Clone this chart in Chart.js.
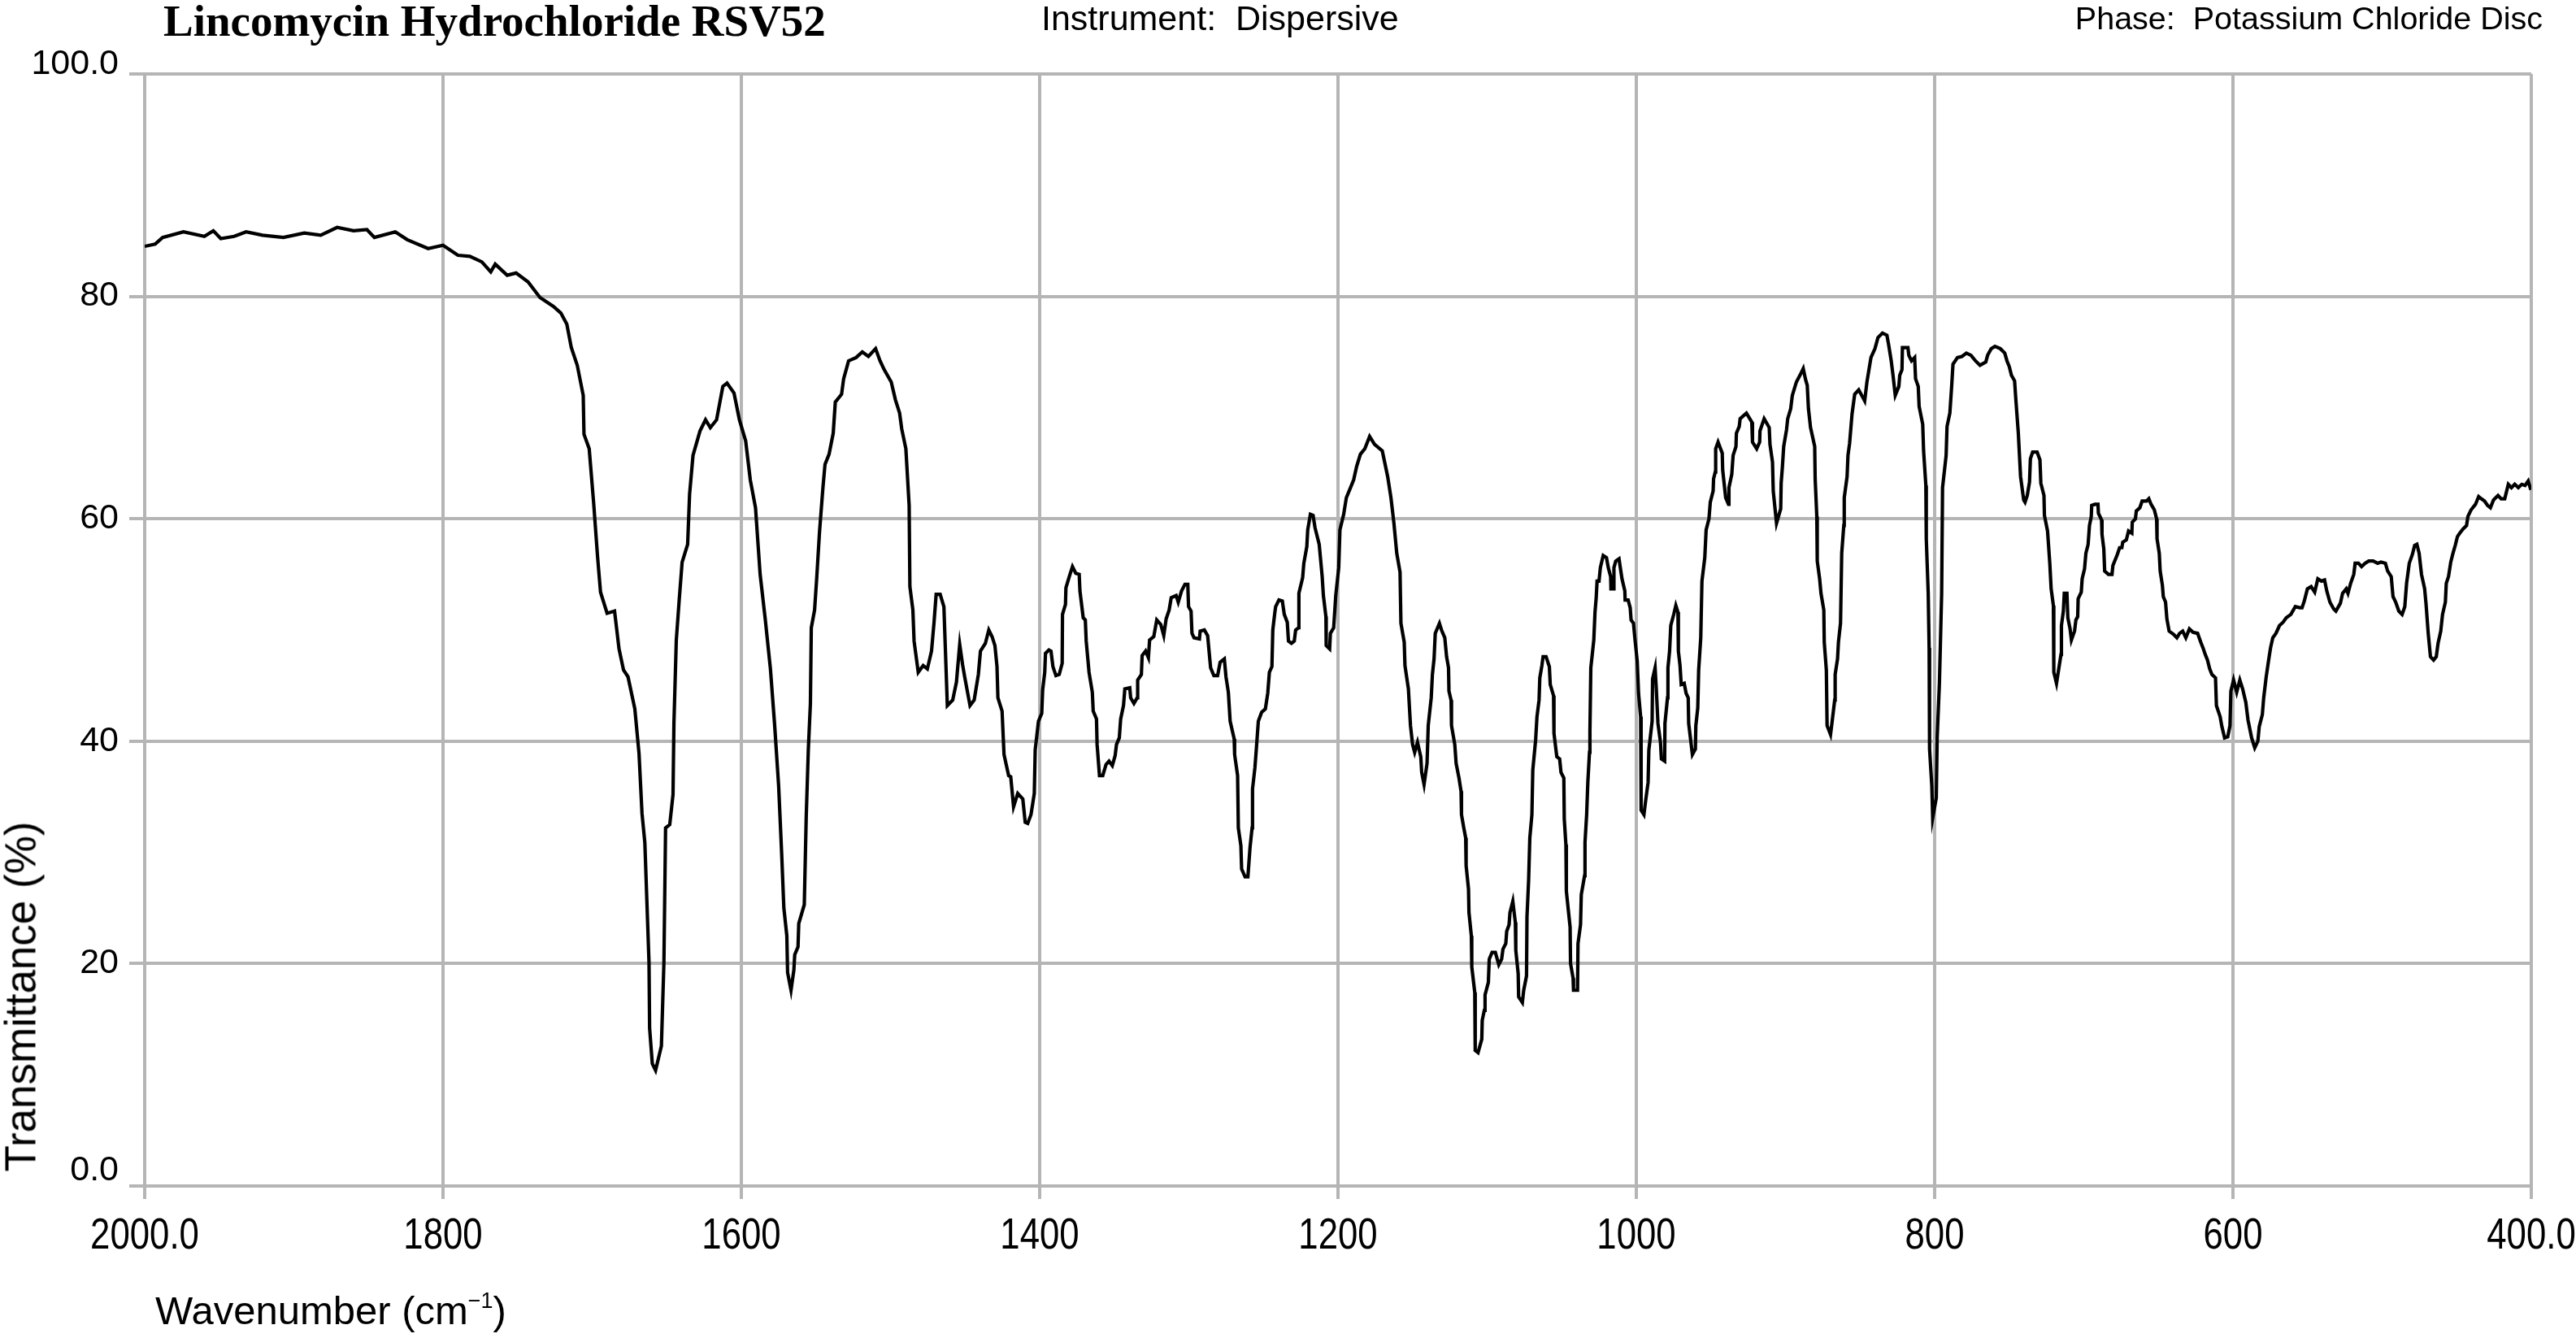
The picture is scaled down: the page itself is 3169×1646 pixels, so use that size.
<!DOCTYPE html>
<html>
<head>
<meta charset="utf-8">
<script src="https://cdn.jsdelivr.net/npm/chart.js@4.4.1/dist/chart.umd.min.js"></script>
<style>
html, body { margin: 0; padding: 0; background: #ffffff; }
#wrap { position: relative; width: 3169px; height: 1646px; overflow: hidden; background: #ffffff; }
#c { position: absolute; left: 0; top: 0; }
.t { position: absolute; white-space: pre; line-height: 1; color: #000; }
#title { left: 201px; top: -6px; font: bold 55px "Liberation Serif", "Times New Roman", serif; }
#instr { left: 1281px; top: -2px; font: 43px "Liberation Sans", Arial, sans-serif; }
#phase { right: 41px; top: 0px; font: 39.5px "Liberation Sans", Arial, sans-serif; }
#xtitle { left: 191px; top: 1584px; font: 49px "Liberation Sans", Arial, sans-serif; }
#xtitle sup { font-size: 0.55em; vertical-align: 0.75em; line-height: 0; }
#ytitle { left: 25px; top: 1226px; font: 53px "Liberation Sans", Arial, sans-serif; transform: translate(-50%, -50%) rotate(-90deg); }
</style>
</head>
<body>
<div id="wrap">
<canvas id="c" width="3169" height="1646"></canvas>
<div class="t" id="title">Lincomycin Hydrochloride RSV52</div>
<div class="t" id="instr">Instrument:  Dispersive</div>
<div class="t" id="phase">Phase:  Potassium Chloride Disc</div>
<div class="t" id="xtitle">Wavenumber (cm<sup>−1</sup>)</div>
<div class="t" id="ytitle">Transmittance (%)</div>
</div>
<script>
// ---- data ----
const wavenumbers = [
2000,1993,1988,1974,1960,1954,1949,1940,1932,1921,1907,1893,1882,1871,1860,1851,1846,1832,1824,1810,
1800,1790,1782,1774,1768,1765,1757,1751,1743,1735,1726,1721,1717,1714,1710,1706,1705.5,1702,1699,1696.4,
1694.4,1690,1685,1682,1679,1676,1671.4,1668.6,1666.6,1664.7,1661.9,1661.5,1659.7,1657.5,1653.6,1651.9,1650.8,1648,1645.8,1645.2,
1643.6,1641.6,1639.7,1636,1634.7,1632.4,1627.7,1624,1620.8,1616.6,1612.4,1609.6,1604.9,1601.3,1597.1,1594,1590.5,1587.4,1584,1580.5,
1577.7,1575,1573,1571.5,1569.5,1569,1566.7,1564.8,1564.2,1562,1561.5,1557.8,1556.5,1555.1,1553.7,1553.1,1550.9,1549.5,1547.6,1545.3,
1543.9,1541.2,1538.4,1537,1532.8,1531.4,1528.1,1523.1,1518.9,1514.8,1510,1507,1504.2,1499.5,1496.7,1493.9,1492.5,1489.7,1487.5,1487,
1485,1484.2,1481.4,1478.1,1475.3,1472.5,1470.8,1469.4,1466.7,1464.2,1463.3,1461.9,1458.3,1455.8,1453.6,1451.7,1450.3,1446.7,1443.9,1441.1,
1439.7,1436.4,1434.1,1431.9,1430,1428.6,1428,1425.2,1423.9,1420.8,1419.4,1417.5,1414.7,1411.3,1409.7,1408,1405.8,1403.6,1403,1400.8,
1398.6,1398,1396.6,1396.1,1393.8,1392.4,1391.1,1389.1,1386.9,1384.9,1384.7,1382.7,1382.4,1379.9,1378,1375.8,1373.5,1373,1370.8,1369.4,
1368.8,1366.9,1364.7,1364.1,1361.9,1361.5,1359.9,1357.7,1355.5,1353.5,1351.3,1349.4,1348.5,1346.6,1345.7,1343.8,1342.9,1339.6,1339,1336.8,
1334.6,1334.3,1331.8,1331.3,1329,1327.1,1326.3,1323.5,1321.5,1318.8,1316.8,1315.2,1313.2,1311.8,1308.5,1307.1,1304.9,1302.6,1300.7,1300.2,
1298.5,1297.9,1296.5,1292.9,1292.4,1289.6,1287.4,1285.4,1283.2,1280.7,1279,1276.2,1275.1,1273.5,1272.3,1269.6,1269.3,1267.3,1266.8,1265.1,
1264.6,1262.3,1260.4,1259,1257.6,1257.3,1255.7,1254.8,1253.4,1251.2,1248.7,1247.1,1246,1244.3,1243.7,1242.3,1241.8,1239.6,1237.3,1236,
1234,1233.2,1231.2,1229.3,1228.4,1226.5,1226.2,1223.7,1222.9,1220.9,1220.3,1218.5,1216.7,1215.4,1212.6,1210.6,1209.8,1208.1,1207.9,1205.6,
1205.1,1202.9,1201.5,1200.3,1199.5,1198.7,1196.2,1194.4,1191.6,1189.5,1187.5,1185,1182,1178.8,1175.5,1170.3,1166.7,1164.5,1162.5,1160.6,
1158.4,1157.8,1155.6,1155.1,1152.8,1151.4,1150,1148.6,1146.7,1144.5,1143.9,1142.3,1140.3,1139.5,1137.5,1136.7,1135.6,1134.8,1132,1130.6,
1128.4,1127.2,1125.9,1125.6,1124.2,1123.9,1121.7,1120.8,1118.9,1117.5,1117.2,1115.8,1114.4,1114.1,1112.5,1112.2,1110.6,1110.3,1108.3,1108,
1106.1,1103.6,1103.3,1101.9,1101.4,1099.2,1098.6,1096.7,1094.5,1092.2,1090.3,1089.4,1087.5,1086.9,1085.3,1084.7,1082.8,1081.1,1080.8,1079.2,
1078.9,1076.4,1075.5,1073.6,1073.3,1072.2,1071.4,1070,1069.4,1067.5,1066.6,1065.2,1064.7,1063.3,1062.5,1060.5,1058.3,1057.7,1055.5,1055.2,
1053.3,1051.4,1050.5,1048.6,1048.3,1047.2,1046.9,1044.4,1044.1,1042.4,1042.1,1039.4,1039.1,1037.4,1036.9,1034.7,1034.4,1033.3,1032.5,1031.4,
1031.1,1030.5,1028.5,1027.7,1026.9,1026.3,1025,1024.1,1022.2,1020,1018.8,1017.2,1017,1015.2,1015,1013.8,1011.6,1010.5,1009.6,1007.7,
1007.5,1005.5,1004.1,1003.5,1001.9,1001,999.4,998.5,997.1,996.8,994.9,993.8,992.1,991.6,989.4,989.1,987.4,986.6,985.5,983.8,
983.2,981,980.8,979.1,978.8,977.7,976.9,974.9,973.5,972.1,971.8,970.7,969.9,967.9,966.6,965.2,964.9,963.2,962.4,960.4,
960.1,958.8,958.2,956.8,956,954.1,953.2,951.3,950.4,948.5,948.2,947.1,946.8,945.2,942.4,942.1,940.1,938.2,937.9,936,
935.1,933.2,932.9,931,930.4,926.2,922.6,922.1,919.3,917.3,917.1,914.3,910.9,910.4,908.7,908.2,906,903.2,902.9,902.1,
901.2,899.3,898.5,896.5,895.4,892.7,889.9,888.1,886.5,885.4,884.6,883.2,880.4,880.1,879,878.7,877.1,876.2,874.3,874,
872.6,872.1,869.8,868.7,867,866.7,865.1,864.5,863.1,862.3,860.9,860.6,858.7,858.1,857,855.4,853.6,850.9,846.9,845.4,
842.7,840,838,835,832,830.9,829.1,827.9,826.4,824,823.4,821.9,821.6,817.9,817.3,815.5,813.4,812.8,811,810.4,
808,807.4,805.9,805.6,804.3,803.7,803.4,801.9,801.3,798.9,798.3,796.8,795.3,794.7,792.3,791.7,789.8,788.6,787.7,784.7,
781.7,778.7,775.6,772.6,769.6,765.7,764.5,762.1,759.6,756,753,751.5,750,748.5,746.4,745.5,743.9,742.4,740.3,739.4,
737.9,736.4,735.8,734.3,731.3,729.4,728.8,726.7,726.4,724.3,722.8,721.9,720.4,720.1,718.3,716.8,715.3,715,713.7,713.1,
711.3,710.7,709.2,708.3,706.2,705.3,704.1,703.8,701.7,701.1,699.5,698.6,697.1,696.2,695,694.7,692.6,690.5,690.2,688.1,
687.8,686.6,686,683.5,681.1,680.5,677.5,676,674.5,673.9,671.5,670,667.8,667.5,665.4,664.8,662.4,660.9,657.9,656.4,
654.9,652.7,651.2,650.9,649.4,648.8,647.3,646.7,645.2,644.3,642.8,639.7,637.6,635.8,633.7,631.6,629.2,626.8,623.7,621.6,
620.1,618.6,617.1,615.6,614.1,611.7,611.1,608.6,607.4,605.6,603.5,602,601.4,599.6,597.5,595.4,593.5,591.4,589.9,587.5,
585.4,583.3,582.4,580.3,579.4,577.8,576.3,574.8,573.3,571.2,568.8,566.4,564.3,561.2,558.2,555.2,553.7,552.2,550.1,547.6,
545.2,543.1,540.7,538.6,537.1,535,532.5,531,528,526.5,524.1,522.9,521.1,519,518.1,515.9,513.8,511.4,509,506,
503,500.8,497.8,496.3,493.9,492.7,490.9,488.8,486.6,484.8,483.6,481.8,479.7,478.2,476.7,475.2,473.6,471.5,470.6,469.1,
467.6,465.5,463.7,462.5,460.7,459.5,457.6,457,455.5,454,452.5,451,449.5,448,445.6,443.4,442.5,440.4,437.4,435.3,
433.5,431.4,429.3,427.4,425.3,422.3,420.2,417.8,415.4,413.3,411.1,408.7,406.3,404.2,402.1,400.3
];
const transmittance = [
84.5,84.7,85.3,85.8,85.4,85.9,85.2,85.4,85.8,85.5,85.3,85.7,85.5,86.2,85.9,86.0,85.3,85.8,85.1,84.3,
84.6,83.7,83.6,83.1,82.2,82.9,81.9,82.1,81.3,79.9,79.1,78.5,77.5,75.4,73.8,71.1,67.6,66.3,61.4,56.6,
53.4,51.5,51.7,48.3,46.4,45.8,42.9,38.9,33.5,30.9,20.1,14.2,11.0,10.4,12.6,20.1,32.2,32.5,35.2,41.6,
49.1,52.8,56.1,57.7,62.2,65.7,67.9,68.9,68.2,68.9,71.9,72.2,71.3,68.9,67.0,63.5,61.0,55.0,51.0,46.5,
41.5,36.0,30.0,25.0,22.5,19.2,17.6,19.4,20.8,21.5,23.6,25.3,33.2,39.2,43.4,50.2,51.8,54.6,58.8,62.8,
64.9,65.8,67.7,70.5,71.2,72.6,74.2,74.5,75.0,74.6,75.3,74.2,73.4,72.3,70.7,69.5,68.1,66.3,61.2,53.9,
51.8,49.0,46.2,46.8,46.5,48.1,50.7,53.2,53.2,52.1,48.6,43.2,43.7,45.3,48.7,46.9,45.8,43.2,43.7,46.0,
48.1,48.8,50.0,49.4,48.6,46.7,43.9,42.7,38.8,36.9,36.8,34.1,35.3,34.8,32.7,32.6,33.4,35.3,39.2,41.8,
42.5,44.6,46.2,47.9,48.2,48.1,46.7,45.9,46.0,47.0,51.4,52.3,53.8,54.9,55.7,55.1,55.0,53.5,51.1,50.9,
49.0,46.2,44.4,42.7,42.0,39.7,36.9,36.9,37.9,38.2,37.8,38.7,39.7,40.3,42.0,43.2,44.7,44.8,43.9,43.4,
43.9,45.5,46.0,47.7,48.1,47.5,49.1,49.4,50.9,50.5,49.5,51.0,51.8,52.9,53.1,52.5,53.5,54.1,54.1,52.1,
51.7,49.7,49.3,49.2,49.9,50.0,49.5,46.6,45.9,45.9,47.1,47.4,45.8,44.4,41.8,40.2,38.8,36.9,32.2,30.6,
28.5,27.8,27.8,30.4,32.2,35.7,37.6,39.2,41.8,42.6,42.9,44.3,46.2,46.7,50.0,51.6,52.1,52.7,52.6,51.4,
50.7,49.0,48.8,49.0,50.0,50.2,53.3,54.7,56.0,57.5,59.0,60.4,60.3,59.2,57.7,54.8,53.1,51.2,48.6,48.3,
49.7,50.2,53.1,54.6,55.6,59.0,60.4,61.9,62.8,63.5,64.7,65.8,66.3,67.4,66.7,66.1,63.8,61.9,59.6,56.9,
55.2,50.6,48.9,46.8,44.7,41.4,39.7,39.0,39.9,38.6,37.2,36.1,38.0,41.4,43.9,46.0,47.4,49.7,50.6,50.0,
49.3,47.6,46.6,44.5,43.7,41.4,39.7,38.0,36.7,35.5,33.4,32.3,31.3,28.8,26.7,24.6,22.5,19.7,17.4,12.2,
12.0,13.2,14.9,15.8,17.2,18.3,20.4,21.0,21.0,19.9,20.4,21.3,21.8,22.9,23.5,24.6,25.6,23.7,21.2,19.1,
17.0,16.5,17.6,18.9,24.2,27.5,31.3,33.4,37.4,40.1,42.2,43.7,45.7,46.8,47.6,47.6,46.7,45.1,44.1,40.7,
38.6,38.4,37.2,36.7,33.0,30.7,26.5,23.3,20.0,18.7,17.6,17.6,21.8,23.5,26.2,27.9,30.9,33.4,36.3,39.0,
40.9,46.6,49.1,51.6,52.9,54.4,54.4,55.6,56.7,56.5,55.6,54.8,53.7,53.7,55.6,56.2,56.4,55.4,54.6,53.5,
52.7,52.7,52.0,50.9,50.6,49.3,47.2,44.3,42.2,33.8,33.4,34.6,36.3,39.2,41.8,45.6,46.6,44.7,41.6,39.9,
38.4,38.2,41.6,43.9,46.6,48.1,50.4,51.4,52.2,51.6,48.1,46.8,45.1,45.2,44.3,43.9,41.6,39.7,38.8,39.3,
41.4,43.0,46.4,49.3,54.4,56.5,59.0,60.0,61.5,62.5,63.6,64.2,66.3,66.9,65.9,64.4,61.9,61.3,62.8,64.0,
65.7,66.5,67.7,68.3,69.0,69.5,68.7,66.9,66.3,66.9,67.9,69.0,68.2,66.7,65.1,62.5,59.6,60.9,63.2,64.6,
66.5,68.0,69.0,69.9,71.1,72.3,73.0,73.5,72.5,72.0,69.9,68.2,66.5,63.6,60.2,56.2,54.6,53.3,51.8,48.9,
46.4,41.4,40.6,41.8,43.7,46.0,47.4,48.9,50.6,56.9,59.4,61.9,63.8,65.7,66.8,69.4,71.2,71.6,70.6,72.3,
74.5,75.3,76.3,76.7,76.5,75.7,74.2,72.9,71.1,71.9,72.9,73.4,75.4,75.4,74.7,74.2,74.5,72.6,71.9,70.1,
68.5,66.1,63.0,58.2,53.3,48.4,39.3,36.0,33.1,34.9,40.3,45.2,53.3,62.8,65.7,68.3,69.5,71.9,73.9,74.5,
74.6,74.9,74.7,74.2,73.8,74.1,74.7,75.3,75.5,75.3,74.9,74.2,73.7,72.9,72.4,70.6,67.7,63.8,61.7,61.5,
62.1,63.3,65.4,66.0,66.0,65.3,63.2,62.1,60.3,58.9,56.0,53.7,52.2,46.2,45.2,46.5,47.8,50.4,51.7,53.3,
53.3,51.1,50.1,49.1,49.9,50.9,51.2,52.8,53.4,54.6,55.5,56.9,57.7,59.4,60.2,61.2,61.3,61.3,60.5,59.9,
58.6,57.3,55.3,55.0,55.0,55.8,56.8,57.4,57.4,57.9,58.1,58.9,58.7,59.7,60.0,60.7,61.0,61.6,61.6,61.8,
61.3,60.8,60.0,58.2,56.9,55.3,54.0,53.0,52.5,51.0,49.9,49.6,49.3,49.7,49.9,49.3,50.1,49.8,49.7,48.9,
48.4,47.8,47.3,46.5,46.0,45.7,43.2,42.2,41.3,40.3,40.4,41.4,44.5,45.5,44.4,45.5,44.7,43.5,41.9,40.3,
39.4,40.0,41.3,42.4,43.9,45.7,47.1,48.4,49.3,49.7,50.4,50.7,51.1,51.4,52.1,52.0,52.0,52.6,53.7,53.9,
53.4,54.6,54.4,54.5,53.5,52.5,51.9,51.7,52.4,53.3,53.7,53.3,54.2,55.0,56.0,56.0,55.7,56.0,56.2,56.2,
56.0,56.1,56.0,55.3,54.8,53.0,52.5,51.7,51.4,52.1,54.2,56.0,56.8,57.6,57.7,56.9,55.0,53.7,52.4,49.7,
47.6,47.3,47.6,48.8,49.9,51.4,52.5,54.2,54.8,56.1,56.9,57.6,58.4,58.7,59.1,59.4,60.2,60.8,61.3,62.0,
61.8,61.6,61.2,61.0,61.7,62.1,61.8,61.8,63.1,62.8,63.1,62.8,63.1,63.0,63.4,62.6
];
const xTickValues = [2000, 1800, 1600, 1400, 1200, 1000, 800, 600, 400];
const xTickLabels = ['2000.0', '1800', '1600', '1400', '1200', '1000', '800', '600', '400.0'];
const yTickValues = [0, 20, 40, 60, 80, 100];
const yTickLabels = ['0.0', '20', '40', '60', '80', '100.0'];

// ---- chart ----
const points = wavenumbers.map((w, i) => ({ x: w, y: transmittance[i] }));
const gridColor = '#b5b5b5';

// x tick labels in the reference use a narrow sans face: condense the library's own label drawing
const narrowXLabels = {
  id: 'narrowXLabels',
  beforeDraw(chart) {
    const xs = chart.scales.x;
    if (!xs || xs._narrowPatched) return;
    const origDraw = xs.drawLabels;
    xs.drawLabels = function (area) {
      const ctx = this.ctx;
      const ft = ctx.fillText;
      ctx.fillText = function (t, x, y) {
        this.save(); this.translate(x, y); this.scale(0.81, 1); ft.call(this, t, 0, 0); this.restore();
      };
      try { origDraw.call(this, area); } finally { ctx.fillText = ft; }
    };
    xs._narrowPatched = true;
  }
};

new Chart(document.getElementById('c'), {
  type: 'line',
  data: {
    datasets: [{
      data: points,
      borderColor: '#000000',
      borderWidth: 4.2,
      pointRadius: 0,
      tension: 0,
      fill: false
    }]
  },
  plugins: [narrowXLabels],
  options: {
    responsive: false,
    devicePixelRatio: 1,
    animation: false,
    layout: { padding: { left: 0, right: 55, top: 91, bottom: 0 } },
    plugins: { legend: { display: false }, tooltip: { enabled: false }, title: { display: false } },
    scales: {
      x: {
        type: 'linear',
        position: 'bottom',
        reverse: true,
        min: 400,
        max: 2000,
        afterFit: (s) => { s.height = 187; s.paddingLeft = 0; s.paddingRight = 0; },
        afterBuildTicks: (s) => { s.ticks = xTickValues.map(v => ({ value: v })); },
        grid: { color: gridColor, lineWidth: 4, tickLength: 16, drawTicks: true },
        border: { display: true, color: gridColor, width: 4 },
        ticks: {
          autoSkip: false,
          maxRotation: 0,
          padding: 14,
          color: '#000000',
          font: { family: "'Liberation Sans', Arial, sans-serif", size: 54 },
          callback: (v) => { const i = xTickValues.indexOf(v); return i >= 0 ? xTickLabels[i] : ''; }
        }
      },
      y: {
        type: 'linear',
        position: 'left',
        min: 0,
        max: 100,
        afterFit: (s) => { s.width = 178; s.paddingTop = 0; s.paddingBottom = 0; },
        afterBuildTicks: (s) => { s.ticks = yTickValues.map(v => ({ value: v })); },
        grid: { color: gridColor, lineWidth: 4, tickLength: 19, drawTicks: true },
        border: { display: true, color: gridColor, width: 4 },
        ticks: {
          autoSkip: false,
          padding: 13,
          color: '#000000',
          font: (ctx) => {
            const v = ctx.tick ? ctx.tick.value : null;
            return { family: "'Liberation Sans', Arial, sans-serif", size: 43, lineHeight: v === 0 ? '38px' : '24px' };
          },
          callback: (v) => {
            const i = yTickValues.indexOf(v);
            const lab = i >= 0 ? yTickLabels[i] : '';
            return (v === 0 || v === 100) ? [lab, ''] : lab;
          }
        }
      }
    }
  }
});
</script>
</body>
</html>
